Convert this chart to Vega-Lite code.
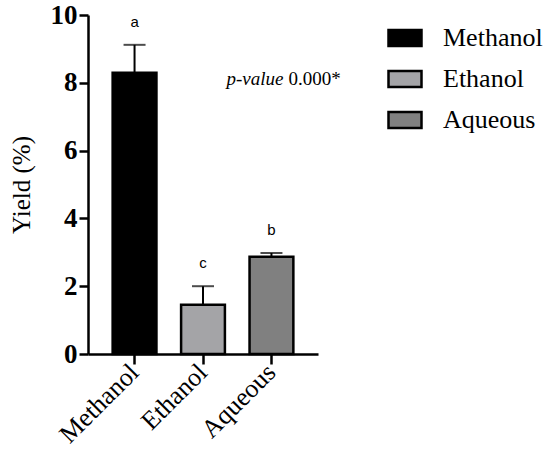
{
  "$schema": "https://vega.github.io/schema/vega-lite/v6.json",
  "width": 230,
  "height": 339,
  "autosize": "none",
  "padding": {"left": 88, "top": 15, "right": 232, "bottom": 116},
  "background": "white",
  "config": {
    "view": {"stroke": null},
    "font": "Liberation Serif",
    "axis": {
      "domainColor": "black",
      "domainWidth": 2.5,
      "tickColor": "black",
      "tickWidth": 2.5,
      "tickSize": 9,
      "grid": false,
      "labelColor": "black",
      "labelFont": "Liberation Serif",
      "titleFont": "Liberation Serif",
      "titleColor": "black"
    },
    "axisY": {
      "titleFontSize": 25,
      "titleFontWeight": "normal",
      "titlePadding": 16,
      "labelFontSize": 27,
      "labelFontWeight": "bold",
      "labelPadding": 2
    },
    "legend": {
      "labelFont": "Liberation Serif",
      "labelColor": "black"
    }
  },
  "data": {
    "values": [
      {"solvent": "Methanol", "yield": 8.3, "upper": 9.12, "letter": "a"},
      {"solvent": "Ethanol", "yield": 1.45, "upper": 2.0, "letter": "c"},
      {"solvent": "Aqueous", "yield": 2.87, "upper": 2.98, "letter": "b"}
    ]
  },
  "encoding": {
    "x": {
      "field": "solvent",
      "type": "nominal",
      "sort": ["Methanol", "Ethanol", "Aqueous"],
      "scale": {"paddingInner": 0.36, "paddingOuter": 0.36},
      "axis": {
        "title": null,
        "labelAngle": -45,
        "labelAlign": "right",
        "labelBaseline": "middle",
        "labelFontSize": 26,
        "labelPadding": 4,
        "tickSize": 10
      }
    }
  },
  "layer": [
    {
      "mark": {"type": "bar", "stroke": "black", "strokeWidth": 2.5},
      "encoding": {
        "y": {
          "field": "yield",
          "type": "quantitative",
          "scale": {"domain": [0, 10], "nice": false},
          "axis": {
            "title": "Yield (%)",
            "values": [0, 2, 4, 6, 8, 10]
          }
        },
        "fill": {
          "field": "solvent",
          "type": "nominal",
          "scale": {
            "domain": ["Methanol", "Ethanol", "Aqueous"],
            "range": ["#000000", "#a4a4a7", "#808080"]
          },
          "legend": {
            "title": null,
            "orient": "none",
            "legendX": 299,
            "legendY": 5,
            "padding": 0,
            "symbolType": "M-1,-0.48H1V0.48H-1Z",
            "symbolSize": 1089,
            "symbolStrokeColor": "black",
            "symbolStrokeWidth": 2.5,
            "symbolOpacity": 1,
            "labelFont": "Liberation Serif",
            "labelFontSize": 26,
            "labelOffset": 20,
            "rowPadding": 10
          }
        }
      }
    },
    {
      "mark": {"type": "rule", "color": "black", "strokeWidth": 2},
      "encoding": {
        "y": {"field": "yield", "type": "quantitative", "title": "Yield (%)"},
        "y2": {"field": "upper"}
      }
    },
    {
      "mark": {"type": "tick", "color": "black", "size": 22, "thickness": 2, "orient": "horizontal"},
      "encoding": {
        "y": {"field": "upper", "type": "quantitative", "title": "Yield (%)"}
      }
    },
    {
      "mark": {"type": "text", "font": "Liberation Sans", "fontSize": 15, "color": "black", "dy": -23, "baseline": "middle"},
      "encoding": {
        "y": {"field": "upper", "type": "quantitative", "title": "Yield (%)"},
        "text": {"field": "letter"}
      }
    },
    {
      "data": {"values": [{"label": "p-value"}]},
      "mark": {"type": "text", "font": "Liberation Serif", "fontSize": 19, "fontStyle": "italic", "color": "black", "align": "right", "baseline": "middle", "dx": 12},
      "encoding": {
        "x": {"datum": "Aqueous"},
        "y": {"datum": 8.1, "title": "Yield (%)"},
        "text": {"field": "label"}
      }
    },
    {
      "data": {"values": [{"label": "0.000*"}]},
      "mark": {"type": "text", "font": "Liberation Serif", "fontSize": 19, "color": "black", "align": "left", "baseline": "middle", "dx": 17},
      "encoding": {
        "x": {"datum": "Aqueous"},
        "y": {"datum": 8.1, "title": "Yield (%)"},
        "text": {"field": "label"}
      }
    }
  ]
}
